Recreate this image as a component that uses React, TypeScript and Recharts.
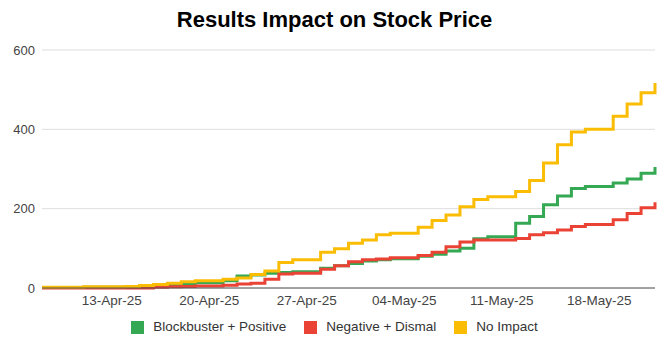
import React from 'react';
import { LineChart, Line, XAxis, YAxis, CartesianGrid } from 'recharts';

// one point per day, 08-Apr-25 .. 22-May-25
const dates = [
  '08-Apr-25', '09-Apr-25', '10-Apr-25', '11-Apr-25', '12-Apr-25', '13-Apr-25', '14-Apr-25',
  '15-Apr-25', '16-Apr-25', '17-Apr-25', '18-Apr-25', '19-Apr-25', '20-Apr-25', '21-Apr-25',
  '22-Apr-25', '23-Apr-25', '24-Apr-25', '25-Apr-25', '26-Apr-25', '27-Apr-25', '28-Apr-25',
  '29-Apr-25', '30-Apr-25', '01-May-25', '02-May-25', '03-May-25', '04-May-25', '05-May-25',
  '06-May-25', '07-May-25', '08-May-25', '09-May-25', '10-May-25', '11-May-25', '12-May-25',
  '13-May-25', '14-May-25', '15-May-25', '16-May-25', '17-May-25', '18-May-25', '19-May-25',
  '20-May-25', '21-May-25', '22-May-25',
];

const blockbuster = [
  1, 1, 1, 2, 2, 2, 3, 6, 7, 9,
  11, 13, 13, 18, 30, 33, 37, 39, 41, 41,
  50, 56, 62, 68, 71, 74, 74, 80, 85, 93,
  100, 124, 129, 129, 163, 180, 210, 232, 251, 256,
  256, 265, 275, 289, 305,
];

const negative = [
  0, 0, 0, 0, 0, 0, 0, 0, 2, 3,
  4, 5, 5, 7, 10, 12, 22, 35, 37, 37,
  47, 56, 66, 71, 73, 76, 76, 82, 90, 104,
  116, 121, 121, 121, 125, 134, 139, 146, 155, 160,
  160, 172, 188, 202, 216,
];

const noImpact = [
  2, 2, 2, 3, 3, 3, 4, 6, 9, 12,
  16, 18, 18, 22, 25, 34, 43, 64, 71, 71,
  90, 99, 113, 121, 134, 138, 138, 153, 170, 184,
  205, 223, 230, 230, 243, 271, 315, 361, 393, 400,
  400, 433, 464, 492, 517,
];

const xTickLabels = ['13-Apr-25', '20-Apr-25', '27-Apr-25', '04-May-25', '11-May-25', '18-May-25'];
const yTicks = [0, 200, 400, 600];

const series = [
  { key: 'blockbuster', name: 'Blockbuster + Positive', color: '#34a853' },
  { key: 'negative', name: 'Negative + Dismal', color: '#ea4335' },
  { key: 'noImpact', name: 'No Impact', color: '#fbbc04' },
];

const data = dates.map((date, i) => ({
  day: i,
  date,
  blockbuster: blockbuster[i],
  negative: negative[i],
  noImpact: noImpact[i],
}));

const xTicks = xTickLabels.map(l => dates.indexOf(l));

const FONT = "Arial, 'Liberation Sans', sans-serif";

export default function App() {
  return (
    <div style={{ position: 'absolute', left: 0, top: 0, width: 669, height: 344, background: '#fff', fontFamily: FONT }}>
      <div
        style={{
          position: 'absolute',
          top: 9,
          left: 0,
          width: 669,
          textAlign: 'center',
          fontSize: 22,
          lineHeight: '22px',
          fontWeight: 'bold',
          color: '#000',
        }}
      >
        Results Impact on Stock Price
      </div>
      <LineChart
        width={669}
        height={344}
        data={data}
        margin={{ top: 50, right: 14, left: 0, bottom: 26 }}
      >
        <CartesianGrid vertical={false} stroke="#dedede" />
        <XAxis
          dataKey="day"
          type="number"
          domain={[0, dates.length - 1]}
          ticks={xTicks}
          tickFormatter={(v: number) => dates[v]}
          height={30}
          tickSize={0}
          tickMargin={7}
          axisLine={{ stroke: '#555' }}
          tickLine={false}
          tick={{ fontSize: 13.5, fill: '#444', fontFamily: FONT }}
        />
        <YAxis
          domain={[0, 600]}
          ticks={yTicks}
          width={42}
          tickSize={0}
          tickMargin={7}
          axisLine={false}
          tickLine={false}
          tick={{ fontSize: 13, fill: '#444', fontFamily: FONT }}
        />
        {series.map(s => (
          <Line
            key={s.key}
            type="stepAfter"
            dataKey={s.key}
            name={s.name}
            stroke={s.color}
            strokeWidth={3}
            dot={false}
            activeDot={false}
            isAnimationActive={false}
          />
        ))}
      </LineChart>
      <div
        style={{
          position: 'absolute',
          top: 320,
          left: 0,
          width: 669,
          display: 'flex',
          justifyContent: 'center',
          alignItems: 'center',
          fontSize: 13.5,
          color: '#333',
        }}
      >
        {series.map((s, i) => (
          <div key={s.key} style={{ display: 'flex', alignItems: 'center', marginLeft: i === 0 ? 0 : 18 }}>
            <div style={{ width: 13, height: 13, background: s.color, marginRight: 9 }} />
            <span style={{ lineHeight: '14px' }}>{s.name}</span>
          </div>
        ))}
      </div>
    </div>
  );
}
